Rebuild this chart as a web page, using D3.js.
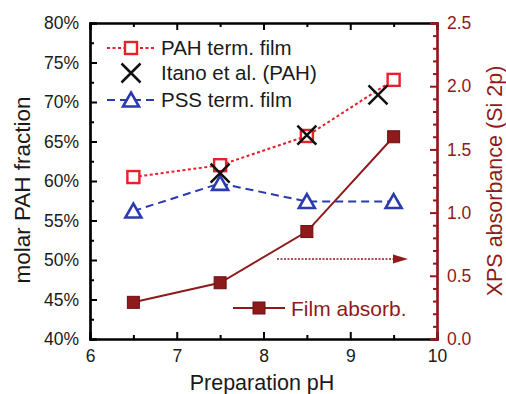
<!DOCTYPE html>
<html>
<head>
<meta charset="utf-8">
<script src="https://cdn.jsdelivr.net/npm/d3@7"></script>
<style>
  body { margin: 0; background: #fff; }
  text { font-family: "Liberation Sans", Arial, sans-serif; }
</style>
</head>
<body>
<svg id="chart" width="506" height="394"></svg>
<script>
// data
const phValues = [6.5, 7.5, 8.5, 9.5];
const pahFilm = [0.605, 0.620, 0.657, 0.728];
const pssFilm = [0.562, 0.597, 0.574, 0.574];
const itanoPh = [7.5, 8.5, 9.32];
const itanoPah = [0.610, 0.658, 0.709];
const filmAbsorb = [0.29, 0.445, 0.85, 1.60];

const xTicks = [6, 7, 8, 9, 10];
const leftTicks = [0.40, 0.45, 0.50, 0.55, 0.60, 0.65, 0.70, 0.75, 0.80];
const rightTicks = [0.0, 0.5, 1.0, 1.5, 2.0, 2.5];

const legendLabels = ["PAH term. film", "Itano et al. (PAH)", "PSS term. film", "Film absorb."];

const red = "#e8202a", blue = "#2b3aae", dark = "#8e1a1c";

const svg = d3.select("#chart");
const plotL = 90, plotR = 437, plotT = 23, plotB = 339;

const x = d3.scaleLinear().domain([6, 10]).range([plotL, plotR]);
const y = d3.scaleLinear().domain([0.40, 0.80]).range([plotB, plotT]);
const y2 = d3.scaleLinear().domain([0, 2.5]).range([plotB, plotT]);

// axes, ticks pointing inward
const minorX = d3.range(6.5, 10, 1);
const minorY = d3.range(0.425, 0.8, 0.05);
const minorY2 = d3.range(0, 2.5001, 0.1).filter(v => Math.abs(v * 2 - Math.round(v * 2)) > 1e-6);

const bottomAxis = svg.append("g").attr("transform", `translate(0,${plotB})`)
  .call(d3.axisBottom(x).tickValues(xTicks).tickSize(-7).tickPadding(10).tickFormat(d3.format("d")));
svg.append("g").attr("transform", `translate(0,${plotB})`)
  .call(d3.axisBottom(x).tickValues(minorX).tickSize(-4).tickFormat(""));

svg.append("g").attr("transform", `translate(0,${plotT})`)
  .call(d3.axisTop(x).tickValues(xTicks).tickSize(-7).tickFormat(""));
svg.append("g").attr("transform", `translate(0,${plotT})`)
  .call(d3.axisTop(x).tickValues(minorX).tickSize(-4).tickFormat(""));

svg.append("g").attr("transform", `translate(${plotL},0)`)
  .call(d3.axisLeft(y).tickValues(leftTicks).tickSize(-7).tickPadding(11).tickFormat(d3.format(".0%")));
svg.append("g").attr("transform", `translate(${plotL},0)`)
  .call(d3.axisLeft(y).tickValues(minorY).tickSize(-4).tickFormat(""));

const rightAxis = svg.append("g").attr("transform", `translate(${plotR},0)`)
  .call(d3.axisRight(y2).tickValues(rightTicks).tickSize(-7).tickPadding(10).tickFormat(d3.format(".1f")));
svg.append("g").attr("class", "minor-r").attr("transform", `translate(${plotR},0)`)
  .call(d3.axisRight(y2).tickValues(minorY2).tickSize(-4).tickFormat(""));

svg.selectAll(".domain").attr("stroke-width", 2.2);
svg.selectAll(".tick line").attr("stroke-width", 2);
svg.selectAll(".tick text").attr("font-size", 17.5).attr("fill", "#1a1a1a");
rightAxis.selectAll(".domain, .tick line").attr("stroke", dark);
svg.select(".minor-r").selectAll(".domain, .tick line").attr("stroke", dark);
rightAxis.selectAll(".tick text").attr("fill", dark);
bottomAxis.selectAll(".tick text").attr("dy", "0.75em");

// axis titles
svg.append("text").attr("x", 262).attr("y", 390).attr("text-anchor", "middle")
  .attr("font-size", 21.5).attr("fill", "#1a1a1a").text("Preparation pH");
svg.append("text").attr("transform", `translate(30,${(plotT + plotB) / 2 + 9}) rotate(-90)`)
  .attr("text-anchor", "middle").attr("font-size", 22.5).attr("fill", "#1a1a1a").text("molar PAH fraction");
svg.append("text").attr("transform", `translate(502,${(plotT + plotB) / 2}) rotate(-90)`)
  .attr("text-anchor", "middle").attr("font-size", 21.5).attr("fill", dark).text("XPS absorbance (Si 2p)");

// lines
const line = d3.line().x(d => x(d[0])).y(d => y(d[1]));
const line2 = d3.line().x(d => x(d[0])).y(d => y2(d[1]));

svg.append("path").attr("d", line2(d3.zip(phValues, filmAbsorb)))
  .attr("fill", "none").attr("stroke", dark).attr("stroke-width", 2);
svg.append("path").attr("d", line(d3.zip(phValues, pssFilm)))
  .attr("fill", "none").attr("stroke", blue).attr("stroke-width", 2).attr("stroke-dasharray", "8,5");
svg.append("path").attr("d", line(d3.zip(phValues, pahFilm)))
  .attr("fill", "none").attr("stroke", red).attr("stroke-width", 2).attr("stroke-dasharray", "3,2.5");

// marker helpers
function openSquare(g, cx, cy) {
  g.append("rect").attr("x", cx - 6).attr("y", cy - 6).attr("width", 12).attr("height", 12)
    .attr("fill", "#fff").attr("stroke", red).attr("stroke-width", 2.4);
}
function triangle(g, cx, cy) {
  g.append("path").attr("d", `M${cx},${cy - 7.5} L${cx + 8},${cy + 6.5} L${cx - 8},${cy + 6.5} Z`)
    .attr("fill", "#fff").attr("stroke", blue).attr("stroke-width", 2.6);
}
function cross(g, cx, cy) {
  const s = 9.5;
  g.append("path").attr("d", `M${cx - s},${cy - s} L${cx + s},${cy + s} M${cx - s},${cy + s} L${cx + s},${cy - s}`)
    .attr("stroke", "#111").attr("stroke-width", 2.5);
}
function filledSquare(g, cx, cy) {
  g.append("rect").attr("x", cx - 6).attr("y", cy - 6).attr("width", 12).attr("height", 12)
    .attr("fill", dark).attr("stroke", "#6a1012").attr("stroke-width", 1);
}

const marks = svg.append("g");
phValues.forEach((p, i) => filledSquare(marks, x(p), y2(filmAbsorb[i])));
phValues.forEach((p, i) => triangle(marks, x(p), y(pssFilm[i])));
phValues.forEach((p, i) => openSquare(marks, x(p), y(pahFilm[i])));
itanoPh.forEach((p, i) => cross(marks, x(p), y(itanoPah[i])));

// legend (top left)
const leg = svg.append("g");
const legRows = [48, 73, 100];
leg.append("line").attr("x1", 107).attr("x2", 155).attr("y1", legRows[0]).attr("y2", legRows[0])
  .attr("stroke", red).attr("stroke-width", 2).attr("stroke-dasharray", "3,2.5");
openSquare(leg, 131, legRows[0]);
cross(leg, 131, legRows[1]);
leg.append("line").attr("x1", 107).attr("x2", 155).attr("y1", legRows[2]).attr("y2", legRows[2])
  .attr("stroke", blue).attr("stroke-width", 2).attr("stroke-dasharray", "8,5");
triangle(leg, 131, legRows[2]);
legRows.forEach((ry, i) => {
  leg.append("text").attr("x", 161).attr("y", ry).attr("dy", "0.36em")
    .attr("font-size", 20.5).attr("fill", "#1a1a1a").text(legendLabels[i]);
});

// legend (bottom right)
leg.append("line").attr("x1", 233).attr("x2", 285).attr("y1", 308).attr("y2", 308)
  .attr("stroke", dark).attr("stroke-width", 2);
filledSquare(leg, 259, 308);
leg.append("text").attr("x", 291).attr("y", 308).attr("dy", "0.36em")
  .attr("font-size", 21).attr("fill", dark).text(legendLabels[3]);

// dotted arrow pointing to right axis
svg.append("line").attr("x1", 277).attr("x2", 396).attr("y1", 259).attr("y2", 259)
  .attr("stroke", dark).attr("stroke-width", 1.5).attr("stroke-dasharray", "2,1.5");
svg.append("path").attr("d", "M393,254.5 L408,259 L393,263.5 Z").attr("fill", dark);
</script>
</body>
</html>
